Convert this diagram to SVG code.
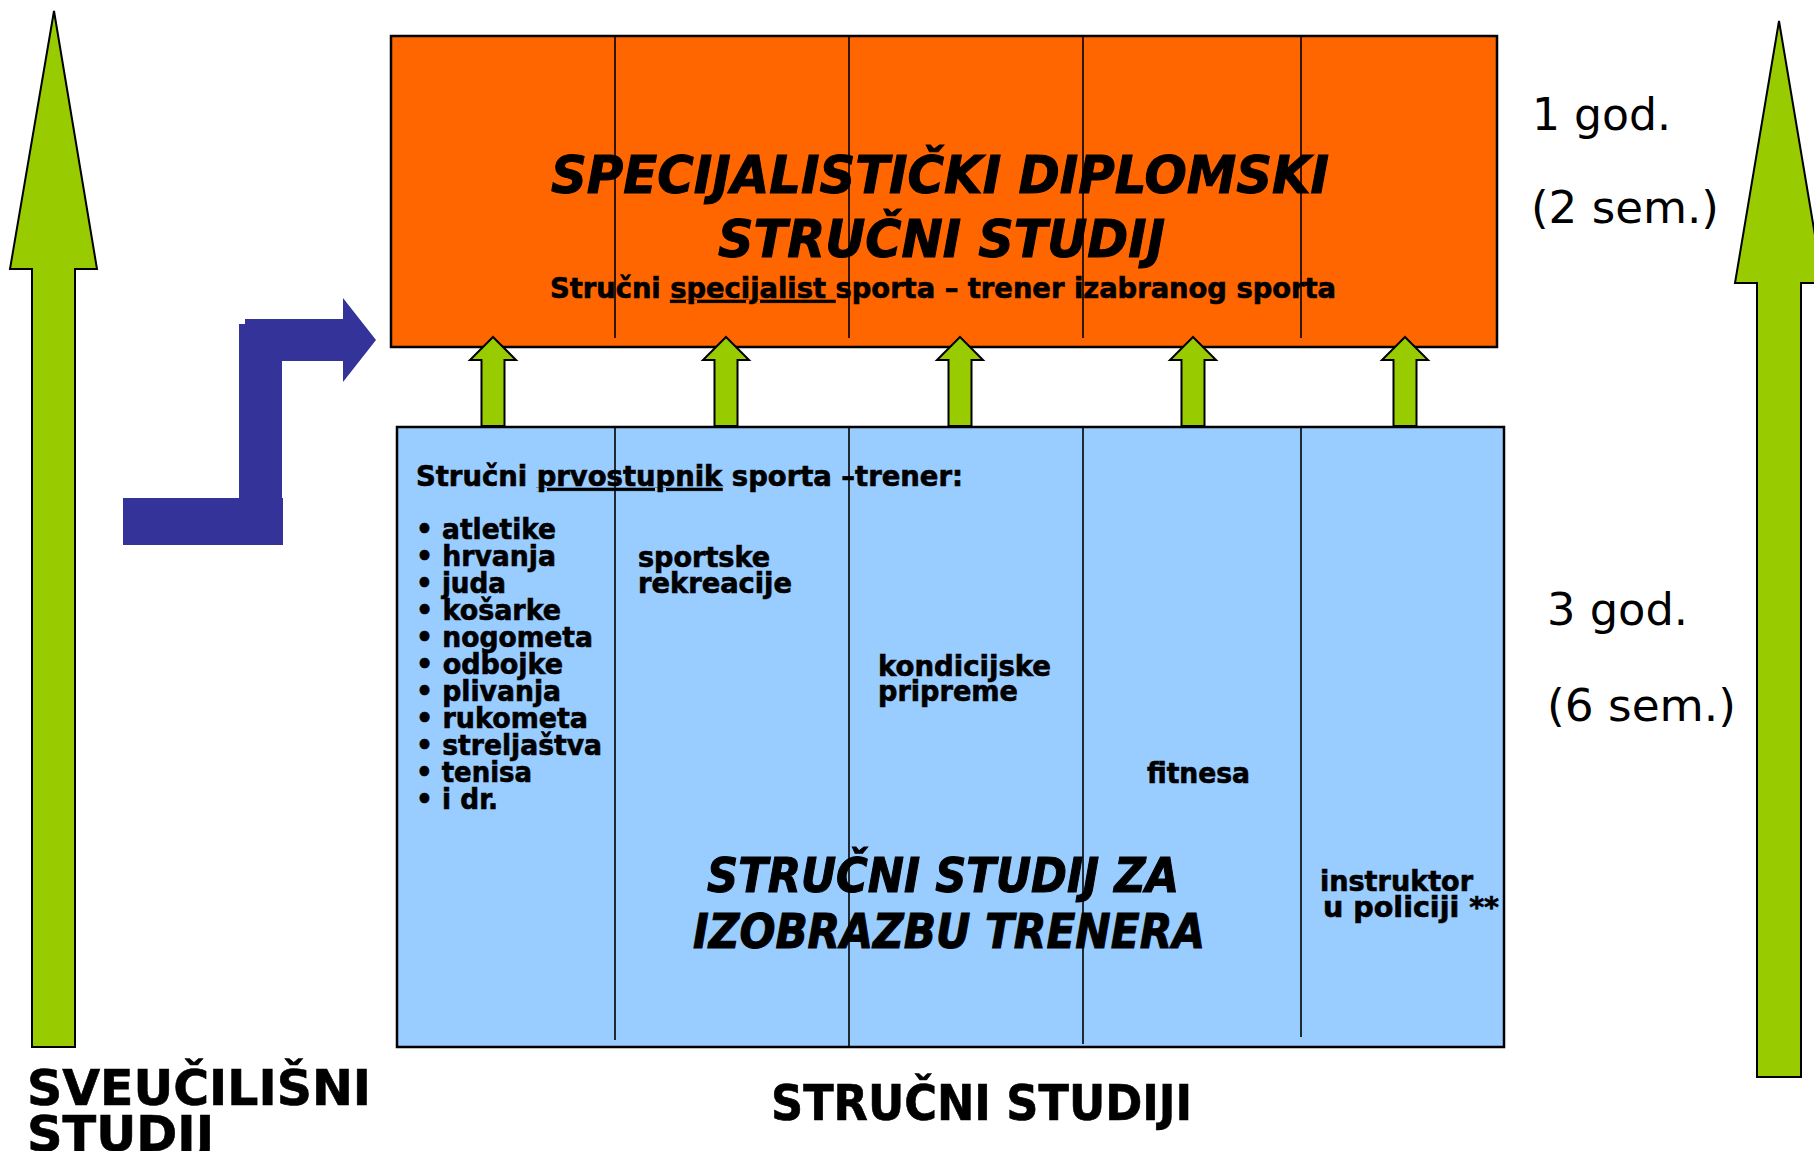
<svg xmlns="http://www.w3.org/2000/svg" width="1814" height="1151" viewBox="0 0 1814 1151">
<style>
.green{fill:#99cc00;stroke:#000;stroke-width:2;stroke-linejoin:miter}
.navy{fill:#333399}
.orange{fill:#ff6600;stroke:#000;stroke-width:2.5}
.blue{fill:#99ccff;stroke:#000;stroke-width:2.5}
.div{stroke:#000;stroke-width:1.6}
.t{font-family:"DejaVu Sans Condensed","DejaVu Sans",sans-serif;font-weight:bold;fill:#000;stroke:#000;stroke-width:0.6}
.ti{font-family:"DejaVu Sans Condensed","DejaVu Sans",sans-serif;font-weight:bold;font-style:italic;fill:#000;stroke:#000;stroke-width:1}
.r{font-family:"DejaVu Sans",Verdana,sans-serif;font-size:45px;fill:#000}
.s{font-size:28px}
.u{text-decoration:underline}
</style>
<rect width="1814" height="1151" fill="#fff"/>

<g id="specijalisticki">
<rect class="orange" x="391" y="36" width="1106" height="311"/>
<line class="div" x1="615" y1="36" x2="615" y2="338"/>
<line class="div" x1="849" y1="36" x2="849" y2="338"/>
<line class="div" x1="1083" y1="36" x2="1083" y2="338"/>
<line class="div" x1="1301" y1="36" x2="1301" y2="338"/>
<text class="ti" x="551" y="193" font-size="52" textLength="778" lengthAdjust="spacingAndGlyphs">SPECIJALISTIČKI DIPLOMSKI</text>
<text class="ti" x="718" y="257" font-size="52" textLength="447" lengthAdjust="spacingAndGlyphs">STRUČNI STUDIJ</text>
<text class="t s" x="550" y="298" textLength="786" lengthAdjust="spacingAndGlyphs">Stručni <tspan class="u">specijalist </tspan>sporta – trener izabranog sporta</text>
</g>

<g id="strucni-studij">
<rect class="blue" x="397" y="427" width="1107" height="620"/>
<line class="div" x1="615" y1="427" x2="615" y2="1040"/>
<line class="div" x1="849" y1="427" x2="849" y2="1047"/>
<line class="div" x1="1083" y1="427" x2="1083" y2="1044"/>
<line class="div" x1="1301" y1="427" x2="1301" y2="1037"/>
<text class="t s" x="416" y="486" textLength="547" lengthAdjust="spacingAndGlyphs">Stručni <tspan class="u">prvostupnik</tspan> sporta –trener:</text>
<g class="t s">
<text x="416" y="539" textLength="140" lengthAdjust="spacingAndGlyphs">• atletike</text>
<text x="416" y="566" textLength="140" lengthAdjust="spacingAndGlyphs">• hrvanja</text>
<text x="416" y="593" textLength="90" lengthAdjust="spacingAndGlyphs">• juda</text>
<text x="416" y="620" textLength="145" lengthAdjust="spacingAndGlyphs">• košarke</text>
<text x="416" y="647" textLength="177" lengthAdjust="spacingAndGlyphs">• nogometa</text>
<text x="416" y="674" textLength="147" lengthAdjust="spacingAndGlyphs">• odbojke</text>
<text x="416" y="701" textLength="145" lengthAdjust="spacingAndGlyphs">• plivanja</text>
<text x="416" y="728" textLength="172" lengthAdjust="spacingAndGlyphs">• rukometa</text>
<text x="416" y="755" textLength="186" lengthAdjust="spacingAndGlyphs">• streljaštva</text>
<text x="416" y="782" textLength="116" lengthAdjust="spacingAndGlyphs">• tenisa</text>
<text x="416" y="809" textLength="82" lengthAdjust="spacingAndGlyphs">• i dr.</text>
</g>
<text class="t s" x="638" y="567" textLength="132" lengthAdjust="spacingAndGlyphs">sportske</text>
<text class="t s" x="638" y="593" textLength="154" lengthAdjust="spacingAndGlyphs">rekreacije</text>
<text class="t s" x="878" y="676" textLength="173" lengthAdjust="spacingAndGlyphs">kondicijske</text>
<text class="t s" x="878" y="701" textLength="140" lengthAdjust="spacingAndGlyphs">pripreme</text>
<text class="t s" x="1147" y="783" textLength="103" lengthAdjust="spacingAndGlyphs">fitnesa</text>
<text class="t s" x="1320" y="891" textLength="153" lengthAdjust="spacingAndGlyphs">instruktor</text>
<text class="t s" x="1323" y="917" textLength="176" lengthAdjust="spacingAndGlyphs">u policiji **</text>
<text class="ti" x="707" y="892" font-size="48" textLength="472" lengthAdjust="spacingAndGlyphs">STRUČNI STUDIJ ZA</text>
<text class="ti" x="693" y="948" font-size="48" textLength="512" lengthAdjust="spacingAndGlyphs">IZOBRAZBU TRENERA</text>
</g>

<g id="labels">
<text class="r" x="1532" y="130" textLength="139" lengthAdjust="spacingAndGlyphs">1 god.</text>
<text class="r" x="1531" y="223" textLength="188" lengthAdjust="spacingAndGlyphs">(2 sem.)</text>
<text class="r" x="1547" y="625" textLength="141" lengthAdjust="spacingAndGlyphs">3 god.</text>
<text class="r" x="1547" y="721" textLength="189" lengthAdjust="spacingAndGlyphs">(6 sem.)</text>
<text class="t" x="27" y="1105" font-size="50" textLength="344" lengthAdjust="spacingAndGlyphs">SVEUČILIŠNI</text>
<text class="t" x="27" y="1151" font-size="50" textLength="187" lengthAdjust="spacingAndGlyphs">STUDIJ</text>
<text class="t" x="771" y="1120" font-size="50" textLength="421" lengthAdjust="spacingAndGlyphs">STRUČNI STUDIJI</text>
</g>

<g id="connectors">
<polygon class="green" points="54,11 97,269 75,269 75,1047 32,1047 32,269 10,269"/>
<polygon class="green" points="1779,21 1823,283 1801,283 1801,1077 1757,1077 1757,283 1735,283"/>
<polygon class="green" points="493,337 516,360 504.5,360 504.5,426 481.5,426 481.5,360 470,360"/>
<polygon class="green" points="726,337 749,360 737.5,360 737.5,426 714.5,426 714.5,360 703,360"/>
<polygon class="green" points="960,337 983,360 971.5,360 971.5,426 948.5,426 948.5,360 937,360"/>
<polygon class="green" points="1193,337 1216,360 1204.5,360 1204.5,426 1181.5,426 1181.5,360 1170,360"/>
<polygon class="green" points="1405,337 1428,360 1416.5,360 1416.5,426 1393.5,426 1393.5,360 1382,360"/>
<g id="path-arrow" class="navy">
<rect x="123" y="498" width="160" height="47"/>
<rect x="239" y="324" width="43" height="175"/>
<polygon points="245,319 343,319 343,298 376,340 343,382 343,361 245,361"/>
</g>
</g>
</svg>
